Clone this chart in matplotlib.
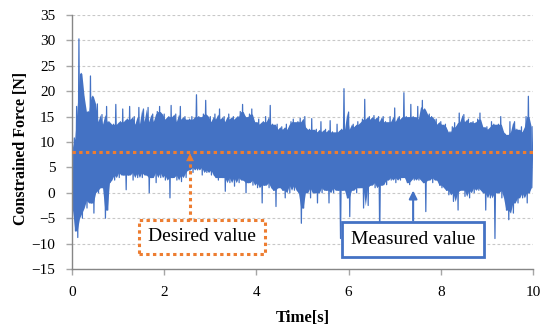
import numpy as np
import matplotlib.pyplot as plt

plt.rcParams['font.family'] = ['Liberation Serif', 'DejaVu Serif']

# measured constrained force:
# local maxima at t = 0.00, 0.05, ... and local minima half a step later
step = 0.05
peak_force = [
    9, 10.8, 17, 30.3, 23.5, 19, 14, 16, 23, 19,
    14, 17.5, 13, 15.4, 13.5, 17, 14, 12.5, 13.5, 17.4,
    13, 14, 16.5, 13, 14.5, 17, 13.5, 15, 13.5, 16.8,
    13.5, 16.5, 14, 16.8, 13.5, 15.5, 14, 16, 17, 14.5,
    15.5, 14, 15, 17.2, 14, 15.5, 13.8, 17, 14.5, 15,
    14, 14.5, 15, 14, 19.3, 15, 14.5, 15.5, 18.2, 14,
    15, 13.5, 15.5, 14.5, 16.5, 14, 15, 14, 15.5, 14.5,
    15, 14, 15, 16, 17.4, 15, 14, 15.5, 16.5, 14,
    13.5, 14.5, 13.5, 14, 15, 13, 17.2, 13.5, 12.5, 13.5,
    12.5, 13, 12, 13.5, 12.5, 14, 14.5, 13, 14, 14.7,
    13, 15, 12, 12.5, 14.6, 12, 12.5, 11.5, 14, 12,
    12.5, 11.8, 14.2, 12, 11.5, 13.5, 12, 12.5, 20.5, 12.5,
    15.9, 12, 13.5, 13, 14, 13.5, 14.5, 18.4, 14, 15,
    14.5, 15.2, 14, 15, 13.5, 15, 14, 13, 15, 14,
    16.7, 14, 15, 14.5, 19.7, 15, 14.5, 17.4, 15, 14.5,
    17, 14.5, 18.2, 16.5, 14.5, 15.5, 15, 13.5, 14.5, 13.5,
    14, 13, 13.5, 11.4, 12, 13, 13.8, 13, 15.7, 14,
    15.4, 13.5, 14.5, 13.8, 14, 13, 14.5, 15.7, 13, 12.4,
    13, 12.5, 14, 13.5, 12.5, 13.5, 15, 12, 11.5, 11,
    14, 12, 14, 12.5, 11.5, 13, 12, 15, 19, 13,
]
trough_force = [
    -3.5, -7.5, -8.8, -4, -5, -1.5, -3, 0, -2, -4,
    0.5, 0, 2, 1, -5, -3.4, 2, 3.5, 2.5, 4,
    3, 4, 3.5, 0.6, 3.5, 4, 2.5, 4, 3, 4,
    3, 4, 3.5, 0, 3, 4, 2, 4.5, 3, 4,
    2.5, 3.5, -1, 3, 4, 2.5, 3.5, 2.2, 4, 3,
    4.5, 5, 4, 5.2, 4.5, 5, 3.5, 5, 4, 4.5,
    3.5, 4.5, 3, 2.5, 4, 3, 0.3, 3, 2, 3.5,
    1.3, 3, 2, 3.5, 2.5, 0, 2, 3, 1.5, 2.5,
    1, 2, -2, 1.5, 2.5, 1, 2, 0.5, -2.7, 1,
    2, 0.5, -1, 1.5, 0, 2, 0.5, 1.5, 0, -6,
    -3, 0, 1, -1, 1.5, 0, -2, 1, 0, 1.5,
    0.5, -2, 1, 0, 1.5, 0.5, -9, 0.5, 1, -1,
    -4.7, 0.5, 1.5, 0, 1, 2, -3, 1, -2.5, 1.5,
    2.5, 1, 2, -9, 1.5, 2.5, 1.6, 3, 2.5, 3.5,
    2, 3, 2.5, 3, 4, 2, 1.6, 3, 2.5, 3.5,
    2.5, 3, 2, -3.7, 2.5, 3.5, 2, 3, 2.5, 1.5,
    1, 2, 0.5, -0.4, 1, -1.7, 0, -3.4, 0.5, 1,
    -0.7, 0.5, -1, 1, 0, 1.5, 0.5, 1, 0, -3.4,
    0.5, -1, 0, -9, 0, 1, -1, 0.5, -3.4, -5.3,
    -2, -4, -1, -2, 0, -1, 0.5, -2, 0, 1,
]
desired_force = 8

blue = '#4472C4'
orange = '#ED7D31'

n = len(peak_force)
peaks = np.array(peak_force, dtype=float)
troughs = np.array(trough_force, dtype=float)
t_peak = np.arange(n) * step

# zig-zag signal through maxima and minima
time = np.empty(2 * n + 1)
force = np.empty(2 * n + 1)
time[0:2 * n:2] = t_peak
time[1:2 * n:2] = t_peak + step / 2
force[0:2 * n:2] = peaks
force[1:2 * n:2] = troughs
time[-1] = n * step
force[-1] = peaks[-1]


def med3(a):
    p = np.concatenate([[a[0]], a, [a[-1]]])
    return np.median(np.vstack([p[:-2], p[1:-1], p[2:]]), axis=0)


# solid body of the dense signal (isolated spikes stay as thin lines)
body_top = med3(peaks)
body_bot = med3(troughs)

fig, ax = plt.subplots(figsize=(5.51, 3.27), dpi=100)
fig.subplots_adjust(left=0.1307, right=0.9673, top=0.9541, bottom=0.1774)

ax.fill_between(t_peak + step / 4, body_bot, body_top, color=blue, lw=0, zorder=2)
ax.plot(time, force, color=blue, lw=0.9, zorder=2)
ax.axhline(desired_force, color=orange, lw=2.2, ls=(0, (1.1, 1.1)), zorder=3)

ax.set_xlim(0, 10)
ax.set_ylim(-15, 35)
ax.set_xticks(np.arange(0, 11, 2))
ax.set_yticks(np.arange(-15, 36, 5))
ax.yaxis.grid(True, color='#c8c8c8', lw=0.8, ls=(0, (2.5, 2)))
ax.set_axisbelow(True)
for s in ['top', 'right']:
    ax.spines[s].set_visible(False)
for s in ['left', 'bottom']:
    ax.spines[s].set_color('#868686')
    ax.spines[s].set_linewidth(1)
ax.tick_params(axis='both', labelsize=11, color='#a6a6a6', length=4, width=1)
ax.tick_params(axis='y', pad=8)
ax.tick_params(axis='x', pad=8)

ax.set_xlabel('Time[s]', fontsize=12, fontweight='bold', labelpad=8)
ax.set_ylabel('Constrained Force [N]', fontsize=11.5, fontweight='bold')
ax.yaxis.set_label_coords(-0.093, 0.476)

# annotations
ax.plot([2.56, 2.56], [-5.5, 7], color=orange, lw=2.2, ls=(0, (1.1, 1.1)), zorder=4)
ax.annotate('', xy=(2.56, 8.3), xytext=(2.56, 6.5),
            arrowprops=dict(arrowstyle='-|>', color=orange, lw=0.5, mutation_scale=12), zorder=4)
ax.text(2.82, -8.7, 'Desired value', fontsize=14, ha='center', va='center', zorder=5,
        bbox=dict(boxstyle='square,pad=0.45', fc='white', ec=orange, lw=2.2, ls=(0, (1.1, 1.1))))

ax.annotate('', xy=(7.4, 1), xytext=(7.4, -6),
            arrowprops=dict(arrowstyle='-|>', color=blue, lw=1.5, mutation_scale=12), zorder=4)
ax.text(7.39, -9.2, 'Measured value', fontsize=14, ha='center', va='center', zorder=5,
        bbox=dict(boxstyle='square,pad=0.45', fc='white', ec=blue, lw=2))

fig.savefig('out.png')
